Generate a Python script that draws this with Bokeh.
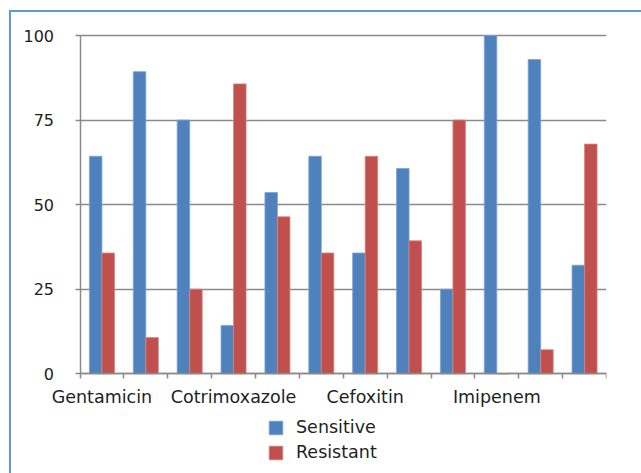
import numpy as np
from bokeh.plotting import figure
from bokeh.models import (ColumnDataSource, Range1d, FixedTicker, Legend, LegendItem,
                          BoxAnnotation)
from bokeh.transform import dodge
from bokeh.embed import file_html
from bokeh.resources import INLINE

# ---- data ----
categories = ["Gentamicin", "", "", "Cotrimoxazole", "", "", "Cefoxitin", "", "",
              "Imipenem", "", ""]
sensitive = [64.3, 89.3, 75.0, 14.3, 53.6, 64.3, 35.7, 60.7, 25.0, 100.0, 92.9, 32.1]
resistant = [35.7, 10.7, 25.0, 85.7, 46.4, 35.7, 64.3, 39.3, 75.0, 0.0, 7.1, 67.9]
y_ticks = [0, 25, 50, 75, 100]
series_names = ["Sensitive", "Resistant"]

BLUE = "#4f81bd"
RED = "#c0504d"
GRID = "#8a8a8a"
TEXT = "#1e1e1e"
FONT = "DejaVu Sans"

n = len(categories)

# pixel layout of the plotting area (axis at left=79.5, right=606, 100 at 35, 0 at 373.3)
AX_L, AX_R, Y100, Y0 = 79.5, 606.0, 35.0, 373.3
FR_L, FR_T, FR_B = 13.0, 14.0, 468.0
px_x = (AX_R - AX_L) / n
px_y = (Y0 - Y100) / 100.0
x_min = -(AX_L - FR_L) / px_x
y_max = 100 + (Y100 - FR_T) / px_y
y_min = -(FR_B - Y0) / px_y

centers = np.arange(n) + 0.5
src = ColumnDataSource(dict(x=centers, s=sensitive, r=resistant))

p = figure(width=641, height=473, output_backend="svg", toolbar_location=None,
           x_range=Range1d(x_min, n), y_range=Range1d(y_min, y_max),
           min_border_left=int(FR_L), min_border_right=int(641 - AX_R),
           min_border_top=int(FR_T), min_border_bottom=int(473 - FR_B))
p.outline_line_color = None
p.background_fill_color = "white"
p.border_fill_alpha = 0
p.styles = {"box-shadow": "inset 9px 10px 0 0 #ffffff, inset 11px 12px 0 0 #5b9bd5",
            "background-color": "#ffffff"}

p.xgrid.grid_line_color = None
p.ygrid.ticker = FixedTicker(ticks=y_ticks)
p.ygrid.grid_line_color = GRID
p.ygrid.grid_line_width = 1.5
try:
    p.ygrid.cross_bounds = (0, n)
except Exception:
    p.add_layout(BoxAnnotation(left=x_min, right=0, fill_color="white", fill_alpha=1,
                               line_color=None, level="underlay"))

bw = 0.285
rb = p.vbar(x=dodge("x", -bw / 2, range=p.x_range), top="s", width=bw, bottom=0,
            source=src, fill_color=BLUE, line_color="#7ea3d3", line_width=0.8)
rr = p.vbar(x=dodge("x", bw / 2, range=p.x_range), top="r", width=bw, bottom=0,
            source=src, fill_color=RED, line_color="#d48482", line_width=0.8)

# y axis (drawn at x = 0)
ya = p.yaxis[0]
ya.fixed_location = 0
ya.bounds = (0, 100)
ya.ticker = FixedTicker(ticks=y_ticks, minor_ticks=[])
ya.axis_line_color = GRID
ya.axis_line_width = 1.5
ya.major_tick_line_color = GRID
ya.major_tick_line_width = 1.5
ya.major_tick_out = 5
ya.major_tick_in = 0
ya.major_label_standoff = 21
ya.major_label_text_font = FONT
ya.major_label_text_font_size = "16px"
ya.major_label_text_color = TEXT

# x axis (drawn at y = 0)
label_pos = [centers[i] for i, c in enumerate(categories) if c]
xa = p.xaxis[0]
xa.fixed_location = 0
xa.bounds = (0, n)
xa.ticker = FixedTicker(ticks=label_pos, minor_ticks=list(range(n + 1)))
xa.major_label_overrides = {float(centers[i]): c for i, c in enumerate(categories) if c}
xa.axis_line_color = GRID
xa.axis_line_width = 1.5
xa.major_tick_line_color = None
xa.major_tick_out = 0
xa.major_tick_in = 0
xa.minor_tick_line_color = GRID
xa.minor_tick_line_width = 1.5
xa.minor_tick_out = 5
xa.minor_tick_in = 0
xa.major_label_standoff = 8
xa.major_label_text_font = FONT
xa.major_label_text_font_size = "17.5px"
xa.major_label_text_color = TEXT

# legend
legend = Legend(items=[LegendItem(label=series_names[0], renderers=[rb]),
                       LegendItem(label=series_names[1], renderers=[rr])],
                location=(267 - FR_L, 6), orientation="vertical")
legend.padding = 0
legend.margin = 0
legend.spacing = 5
legend.glyph_width = 17
legend.glyph_height = 17
legend.label_height = 17
legend.label_standoff = 12
legend.label_text_font = FONT
legend.label_text_font_size = "17.5px"
legend.label_text_color = TEXT
legend.border_line_color = None
legend.background_fill_alpha = 0
p.add_layout(legend)

open("out.html", "w").write(file_html(p, INLINE))
